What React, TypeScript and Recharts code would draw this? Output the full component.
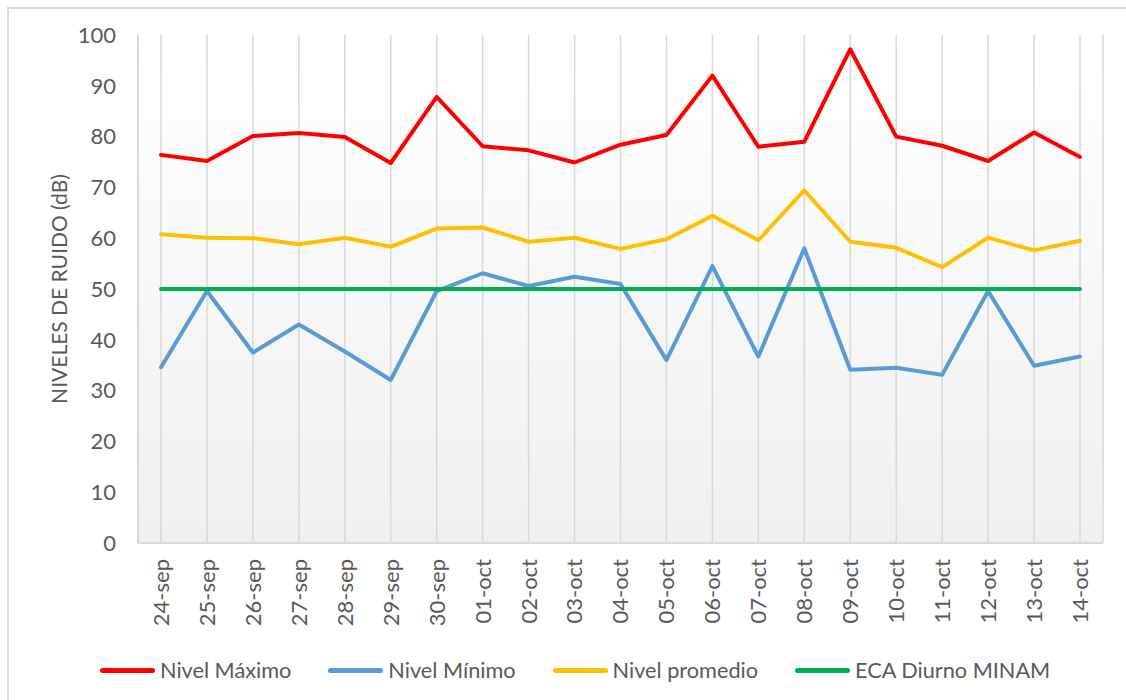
import React from 'react';
import { LineChart, Line, XAxis, YAxis, CartesianGrid, Legend } from 'recharts';

const dates = ['24-sep', '25-sep', '26-sep', '27-sep', '28-sep', '29-sep', '30-sep', '01-oct', '02-oct', '03-oct', '04-oct', '05-oct', '06-oct', '07-oct', '08-oct', '09-oct', '10-oct', '11-oct', '12-oct', '13-oct', '14-oct'];
const nivelMaximo = [76.4, 75.2, 80.1, 80.7, 79.9, 74.8, 87.8, 78.1, 77.3, 74.9, 78.4, 80.3, 92.0, 78.0, 79.0, 97.2, 80.0, 78.2, 75.2, 80.8, 76.0];
const nivelMinimo = [34.6, 49.6, 37.5, 43.0, 37.7, 32.1, 49.6, 53.1, 50.6, 52.4, 51.0, 36.0, 54.5, 36.7, 58.0, 34.1, 34.5, 33.1, 49.6, 34.9, 36.7];
const nivelPromedio = [60.8, 60.1, 60.0, 58.8, 60.1, 58.3, 61.9, 62.1, 59.3, 60.1, 57.9, 59.8, 64.4, 59.6, 69.4, 59.3, 58.1, 54.3, 60.1, 57.6, 59.5];
const ecaDiurno = [50, 50, 50, 50, 50, 50, 50, 50, 50, 50, 50, 50, 50, 50, 50, 50, 50, 50, 50, 50, 50];
const yTicks = [0, 10, 20, 30, 40, 50, 60, 70, 80, 90, 100];

const seriesInfo = [
  { key: 'max', name: 'Nivel Máximo', color: '#ff0000' },
  { key: 'min', name: 'Nivel Mínimo', color: '#5b9bd5' },
  { key: 'avg', name: 'Nivel promedio', color: '#ffc000' },
  { key: 'eca', name: 'ECA Diurno MINAM', color: '#00b050' },
];

const data = dates.map((d, i) => ({
  date: d,
  max: nivelMaximo[i],
  min: nivelMinimo[i],
  avg: nivelPromedio[i],
  eca: ecaDiurno[i],
}));

const FONT = 'Lato, "Open Sans", sans-serif';
const TEXT = '#595959';
const GRID = '#d9d9d9';

const XTick = (props: any) => {
  const { x, y, payload } = props;
  return (
    <g transform={`translate(${x},${y})`}>
      <text
        transform="rotate(-90)"
        textAnchor="end"
        dy="0.36em"
        fill={TEXT}
        fontSize={22}
        fontFamily={FONT}
      >
        {payload.value}
      </text>
    </g>
  );
};

const YTitle = (props: any) => {
  const { viewBox } = props;
  const cy = viewBox.y + viewBox.height / 2;
  return (
    <text
      x={58}
      y={cy}
      transform={`rotate(-90, 58, ${cy})`}
      textAnchor="middle"
      dominantBaseline="central"
      fill={TEXT}
      fontSize={21}
      fontFamily={FONT}
    >
      NIVELES DE RUIDO (dB)
    </text>
  );
};

const LegendContent = () => (
  <div
    style={{
      height: 60,
      display: 'flex',
      alignItems: 'center',
      paddingLeft: 100,
      boxSizing: 'border-box',
      fontFamily: FONT,
      fontSize: 21.7,
      color: TEXT,
    }}
  >
    {seriesInfo.map((s) => (
      <div key={s.key} style={{ display: 'flex', alignItems: 'center', marginRight: 37 }}>
        <div style={{ width: 55, height: 5, borderRadius: 3, background: s.color, marginRight: 5 }} />
        <span style={{ whiteSpace: 'nowrap' }}>{s.name}</span>
      </div>
    ))}
  </div>
);

export default function App() {
  return (
    <div style={{ position: 'absolute', left: 0, top: 0, width: 1126, height: 700, background: '#fff', overflow: 'hidden' }}>
      <div
        style={{
          position: 'absolute',
          left: 7,
          top: 7,
          width: 1300,
          height: 900,
          borderLeft: `2px solid ${GRID}`,
          borderTop: `2px solid ${GRID}`,
        }}
      />
      <div style={{ position: 'absolute', left: 0, top: 0 }}>
        <LineChart width={1126} height={700} data={data} margin={{ top: 35, right: 23, bottom: 0, left: 0 }}>
          <defs>
            <linearGradient id="plotBg" x1="0" y1="0" x2="0" y2="1">
              <stop offset="0%" stopColor="#ffffff" />
              <stop offset="100%" stopColor="#f0f0f0" />
            </linearGradient>
          </defs>
          <CartesianGrid horizontal={false} vertical={true} stroke={GRID} strokeWidth={1.5} fill="url(#plotBg)" />
          <XAxis
            dataKey="date"
            interval={0}
            height={97}
            padding={{ left: 23, right: 23 }}
            axisLine={{ stroke: GRID, strokeWidth: 2 }}
            tickLine={false}
            tickSize={0}
            tickMargin={16}
            tick={<XTick />}
          />
          <XAxis
            xAxisId="top"
            dataKey="date"
            orientation="top"
            height={0}
            padding={{ left: 23, right: 23 }}
            axisLine={{ stroke: GRID, strokeWidth: 2 }}
            tickLine={false}
            tick={false}
          />
          <YAxis
            domain={[0, 100]}
            ticks={yTicks}
            width={138}
            axisLine={{ stroke: GRID, strokeWidth: 2 }}
            tickLine={false}
            tickSize={0}
            tickMargin={22}
            tick={{ fill: TEXT, fontSize: 22, fontFamily: FONT }}
            label={<YTitle />}
          />
          <YAxis
            yAxisId="right"
            orientation="right"
            domain={[0, 100]}
            width={0}
            axisLine={{ stroke: GRID, strokeWidth: 2 }}
            tickLine={false}
            tick={false}
          />
          <Legend verticalAlign="bottom" content={<LegendContent />} wrapperStyle={{ left: 0, width: 1126 }} />
          {seriesInfo.map((s) => (
            <Line
              key={s.key}
              type="linear"
              dataKey={s.key}
              name={s.name}
              stroke={s.color}
              strokeWidth={4}
              strokeLinejoin="round"
              strokeLinecap="round"
              dot={false}
              activeDot={false}
              isAnimationActive={false}
            />
          ))}
        </LineChart>
      </div>
    </div>
  );
}
